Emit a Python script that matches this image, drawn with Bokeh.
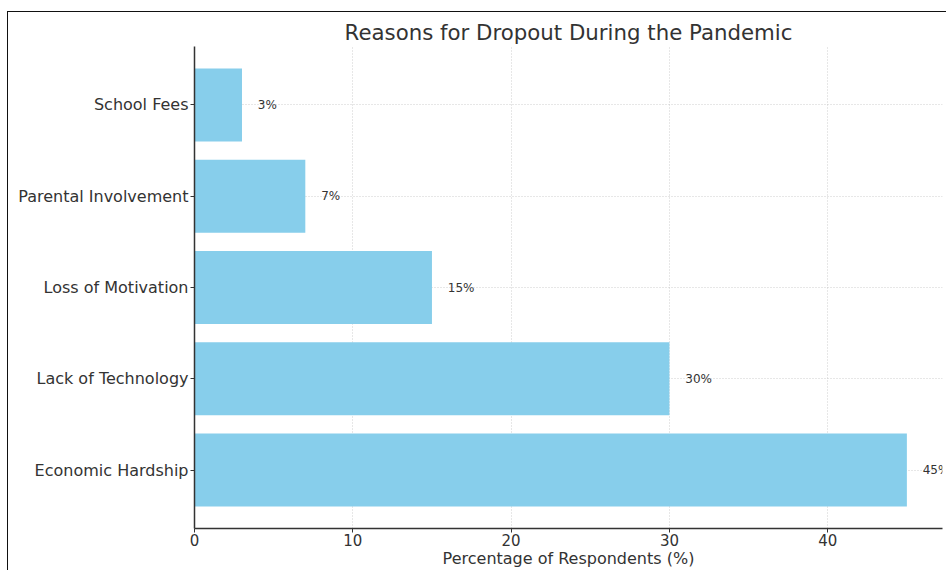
from bokeh.plotting import figure
from bokeh.models import Range1d, FixedTicker, ColumnDataSource
from bokeh.embed import file_html
from bokeh.resources import INLINE
from bokeh.core.properties import value

categories = ["Economic Hardship", "Lack of Technology", "Loss of Motivation",
              "Parental Involvement", "School Fees"]
percentages = [45, 30, 15, 7, 3]
x_ticks = [0, 10, 20, 30, 40]

ypos = list(range(len(categories)))
src = ColumnDataSource(dict(
    y=ypos, v=percentages,
    lx=[v + 1 for v in percentages],
    lab=[f"{v}%" for v in percentages],
))

FONT = "DejaVu Sans"
TXT = "#333333"

p = figure(width=939, height=559, output_backend="svg", toolbar_location=None,
           x_range=Range1d(0, 47.25), y_range=Range1d(-0.64, 4.64),
           min_border_left=186, min_border_right=5, min_border_top=34,
           min_border_bottom=43,
           title="Reasons for Dropout During the Pandemic")
p.margin = (11, 0, 0, 7)
p.styles = {"border-top": "1.5px solid #111111", "border-left": "1.5px solid #111111"}

p.hbar(y="y", right="v", left=0, height=0.8, source=src,
       fill_color="#87CEEB", line_color=None)
p.text(x="lx", y="y", text="lab", source=src, text_font=value(FONT),
       text_font_size="12px", text_color=TXT, text_baseline="middle",
       text_align="left")

p.title.text_font = FONT
p.title.text_font_size = "21.3px"
p.title.text_font_style = "normal"
p.title.text_color = TXT
p.title.align = "center"
p.title.standoff = 4

p.outline_line_color = None
p.background_fill_color = "white"
p.border_fill_color = "white"

for ax in (p.xaxis[0], p.yaxis[0]):
    ax.axis_line_color = "#333333"
    ax.axis_line_width = 1.5
    ax.major_tick_line_color = "#333333"
    ax.major_tick_out = 4
    ax.major_tick_in = 0
    ax.minor_tick_line_color = None
    ax.major_label_text_font = FONT
    ax.major_label_text_color = TXT
    ax.major_label_standoff = 2

p.xaxis.major_label_standoff = 1
p.xaxis.major_label_text_font_size = "15px"
p.yaxis.major_label_text_font_size = "16px"
p.xaxis.ticker = FixedTicker(ticks=x_ticks)
p.yaxis.ticker = FixedTicker(ticks=ypos)
p.yaxis.major_label_overrides = {i: c for i, c in enumerate(categories)}
p.xaxis.axis_label = "Percentage of Respondents (%)"
p.xaxis.axis_label_text_font = FONT
p.xaxis.axis_label_text_font_size = "16px"
p.xaxis.axis_label_text_font_style = "normal"
p.xaxis.axis_label_text_color = TXT
p.xaxis.axis_label_standoff = 0

for g in (p.xgrid[0], p.ygrid[0]):
    g.grid_line_color = "#bbbbbb"
    g.grid_line_dash = "1 2"
    g.grid_line_width = 1
    g.grid_line_alpha = 0.7
p.xgrid.ticker = FixedTicker(ticks=x_ticks)
p.ygrid.ticker = FixedTicker(ticks=ypos)

open("out.html", "w").write(file_html(p, INLINE))
